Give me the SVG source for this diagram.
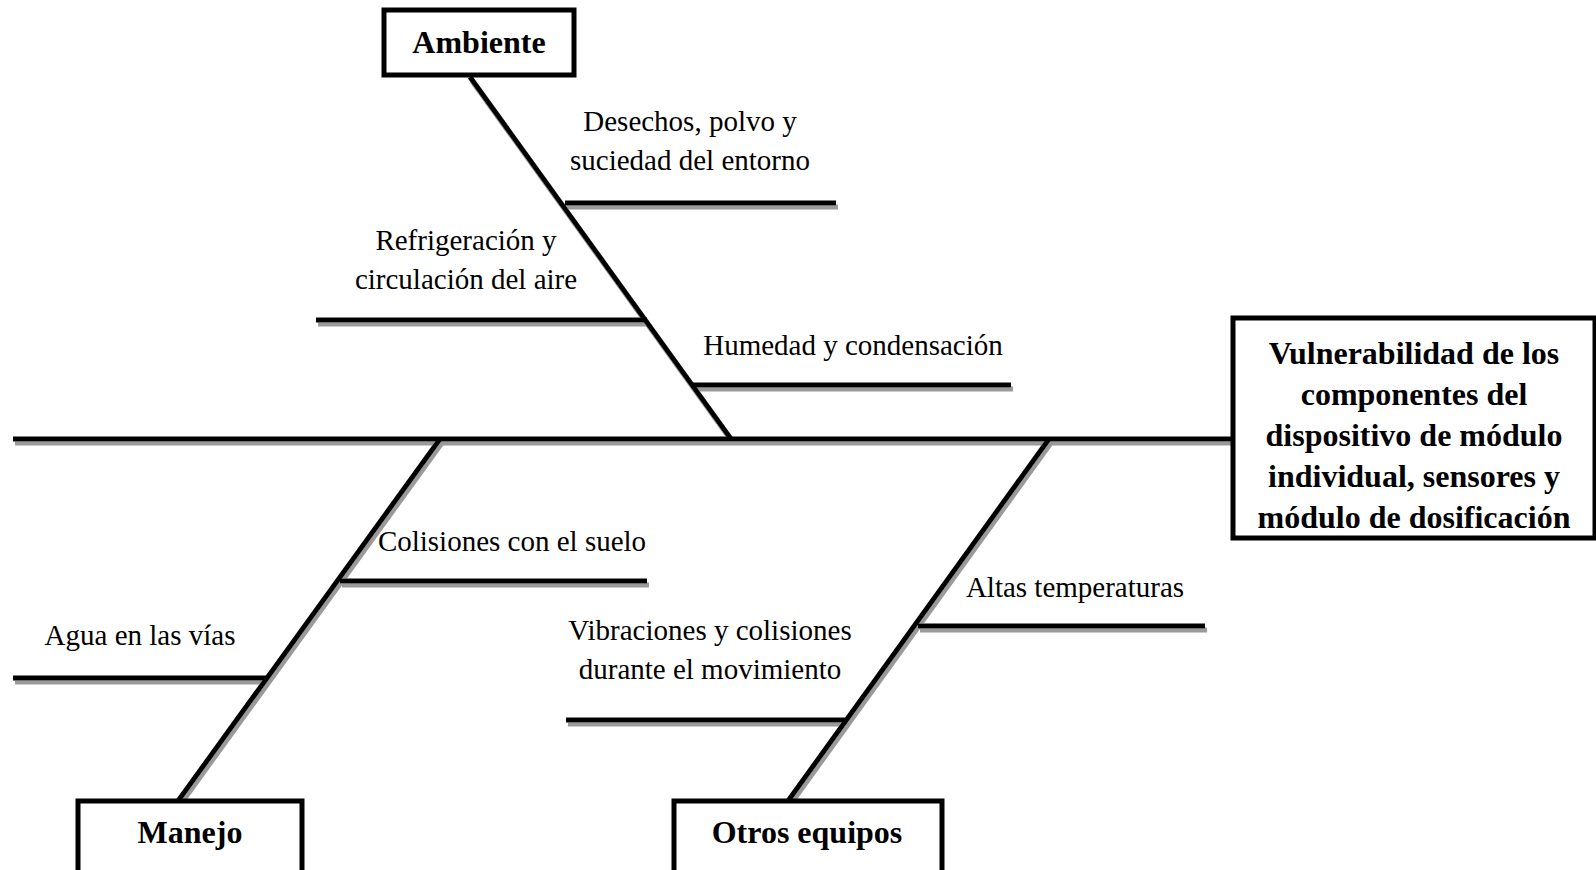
<svg xmlns="http://www.w3.org/2000/svg" width="1596" height="870" viewBox="0 0 1596 870">
  <defs>
    <filter id="drop" x="-5%" y="-20%" width="110%" height="140%">
      <feDropShadow dx="2" dy="4" stdDeviation="0.6" flood-color="#9a9a9a" flood-opacity="1"/>
    </filter>
  </defs>
  <style>
    .bone { stroke: #000; stroke-width: 5; fill: none; stroke-linecap: butt; }
    .box { fill: #fff; stroke: #000; stroke-width: 5; }
    .cat { font-family: "Liberation Serif", "Times New Roman", serif; font-size: 32px; font-weight: bold; fill: #000; text-anchor: middle; }
    .head { font-family: "Liberation Serif", "Times New Roman", serif; font-size: 32px; font-weight: bold; fill: #000; text-anchor: middle; }
    .cause { font-family: "Liberation Serif", "Times New Roman", serif; font-size: 29px; fill: #000; text-anchor: middle; }
  </style>
  <rect width="1596" height="870" fill="#fff"/>

  <!-- fishbone skeleton -->
  <g id="connectors" filter="url(#drop)">
    <line class="bone" x1="13" y1="439" x2="1232" y2="439"/>
    <!-- Ambiente branch -->
    <line class="bone" x1="470" y1="77" x2="731" y2="439"/>
    <line class="bone" x1="565" y1="203" x2="836" y2="203"/>
    <line class="bone" x1="316" y1="320" x2="647" y2="320"/>
    <line class="bone" x1="691" y1="385" x2="1011" y2="385"/>
    <!-- Manejo branch -->
    <line class="bone" x1="440" y1="439" x2="178" y2="801"/>
    <line class="bone" x1="340" y1="581" x2="647" y2="581"/>
    <line class="bone" x1="13" y1="678" x2="266" y2="678"/>
    <!-- Otros equipos branch -->
    <line class="bone" x1="1049" y1="439" x2="788" y2="801"/>
    <line class="bone" x1="918" y1="626" x2="1205" y2="626"/>
    <line class="bone" x1="566" y1="720" x2="845" y2="720"/>
  </g>

  <!-- causes -->
  <g id="cause-desechos">
    <text class="cause" x="690" y="131">Desechos, polvo y</text>
    <text class="cause" x="690" y="170">suciedad del entorno</text>
  </g>
  <g id="cause-refrigeracion">
    <text class="cause" x="466" y="250">Refrigeración y</text>
    <text class="cause" x="466" y="289">circulación del aire</text>
  </g>
  <g id="cause-humedad">
    <text class="cause" x="853" y="355">Humedad y condensación</text>
  </g>
  <g id="cause-colisiones">
    <text class="cause" x="512" y="551">Colisiones con el suelo</text>
  </g>
  <g id="cause-agua">
    <text class="cause" x="140" y="645">Agua en las vías</text>
  </g>
  <g id="cause-altas">
    <text class="cause" x="1075" y="597">Altas temperaturas</text>
  </g>
  <g id="cause-vibraciones">
    <text class="cause" x="710" y="640">Vibraciones y colisiones</text>
    <text class="cause" x="710" y="679">durante el movimiento</text>
  </g>

  <!-- category boxes -->
  <g id="node-ambiente">
    <rect class="box" x="384" y="10" width="190" height="65"/>
    <text class="cat" x="479" y="53">Ambiente</text>
  </g>
  <g id="node-manejo">
    <rect class="box" x="78" y="801" width="224" height="72"/>
    <text class="cat" x="190" y="843">Manejo</text>
  </g>
  <g id="node-otros">
    <rect class="box" x="674" y="801" width="268" height="72"/>
    <text class="cat" x="807" y="843">Otros equipos</text>
  </g>

  <!-- effect -->
  <g id="node-efecto">
    <rect class="box" x="1233" y="318" width="362" height="220"/>
    <text class="head" x="1414" y="364">Vulnerabilidad de los</text>
    <text class="head" x="1414" y="405">componentes del</text>
    <text class="head" x="1414" y="446">dispositivo de módulo</text>
    <text class="head" x="1414" y="487">individual, sensores y</text>
    <text class="head" x="1414" y="528">módulo de dosificación</text>
  </g>
</svg>
